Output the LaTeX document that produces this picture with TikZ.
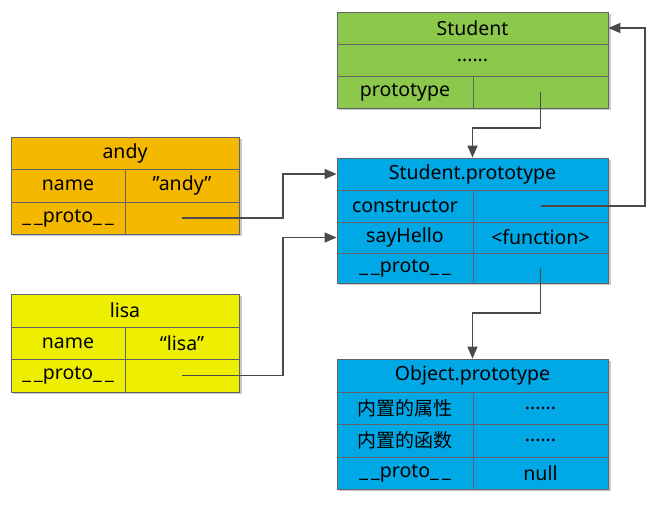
\documentclass[tikz,border=0pt]{standalone}
\usepackage{fontspec}
\setmainfont{Noto Sans}
\newfontfamily\cjkfont{Noto Sans CJK SC}
\usetikzlibrary{arrows.meta}
\definecolor{classgreen}{HTML}{8CC84B}
\definecolor{andyorange}{HTML}{F5B800}
\definecolor{lisayellow}{HTML}{EEEE00}
\definecolor{protoblue}{HTML}{00A9E6}
\definecolor{cellborder}{HTML}{5E6468}
\definecolor{linkcol}{HTML}{4A4A4A}
\definecolor{shadowcol}{HTML}{C8C8C8}
\begin{document}
\begin{tikzpicture}[x=1pt,y=-1pt,
  cell/.style={draw=cellborder, line width=0.8pt, inner sep=0pt,
    font=\fontsize{19.5}{22}\selectfont, text=black},
  cjk/.style={font=\cjkfont\fontsize{19}{21}\selectfont},
  link/.style={draw=linkcol, line width=1.5pt,
    -{Triangle[length=12pt,width=10pt]}},
  tshadow/.style={fill=shadowcol}]
\useasboundingbox (0,0) rectangle (659,504);

% soft shadows behind each table
\fill[tshadow] (339,14) rectangle (611,110);
\fill[tshadow] (13,139) rectangle (242,236);
\fill[tshadow] (339,160) rectangle (611,285);
\fill[tshadow] (13,296) rectangle (242,394);
\fill[tshadow] (339,361) rectangle (611,491);

% Student
\node[cell, fill=classgreen, minimum width=271pt, minimum height=32pt] (stuh) at (472.5,28) {Student};
\node[cell, fill=classgreen, minimum width=271pt, minimum height=32pt] (stud) at (472.5,60) {......};
\node[cell, fill=classgreen, minimum width=136pt, minimum height=32pt] (stuk) at (405,92) {prototype};
\node[cell, fill=classgreen, minimum width=135pt, minimum height=32pt] (stuv) at (540.5,92) {};

% andy
\node[cell, fill=andyorange, minimum width=228pt, minimum height=32pt] (andyh) at (125,153) {andy};
\node[cell, fill=andyorange, minimum width=114pt, minimum height=33pt] (andynk) at (68,185.5) {name};
\node[cell, fill=andyorange, minimum width=114pt, minimum height=33pt] (andynv) at (182,185.5) {”andy”};
\node[cell, fill=andyorange, minimum width=114pt, minimum height=32pt] (andypk) at (68,218) {\_\,\_proto\_\,\_};
\node[cell, fill=andyorange, minimum width=114pt, minimum height=32pt] (andypv) at (182,218) {};

% lisa
\node[cell, fill=lisayellow, minimum width=228pt, minimum height=33pt] (lisah) at (125,310.5) {lisa};
\node[cell, fill=lisayellow, minimum width=114pt, minimum height=32pt] (lisank) at (68,343) {name};
\node[cell, fill=lisayellow, minimum width=114pt, minimum height=32pt] (lisanv) at (182,343) {“lisa”};
\node[cell, fill=lisayellow, minimum width=114pt, minimum height=33pt] (lisapk) at (68,375.5) {\_\,\_proto\_\,\_};
\node[cell, fill=lisayellow, minimum width=114pt, minimum height=33pt] (lisapv) at (182,375.5) {};

% Student.prototype
\node[cell, fill=protoblue, minimum width=271pt, minimum height=32pt] (sph) at (472.5,174) {Student.prototype};
\node[cell, fill=protoblue, minimum width=136pt, minimum height=32pt] (spck) at (405,206) {constructor};
\node[cell, fill=protoblue, minimum width=135pt, minimum height=32pt] (spcv) at (540.5,206) {};
\node[cell, fill=protoblue, minimum width=136pt, minimum height=31pt] (spsk) at (405,237.5) {sayHello};
\node[cell, fill=protoblue, minimum width=135pt, minimum height=31pt] (spsv) at (540.5,237.5) {<function>};
\node[cell, fill=protoblue, minimum width=136pt, minimum height=30pt] (sppk) at (405,268) {\_\,\_proto\_\,\_};
\node[cell, fill=protoblue, minimum width=135pt, minimum height=30pt] (sppv) at (540.5,268) {};

% Object.prototype
\node[cell, fill=protoblue, minimum width=271pt, minimum height=33pt] (oph) at (472.5,375.5) {Object.prototype};
\node[cell, cjk, fill=protoblue, minimum width=136pt, minimum height=32pt] (opak) at (405,408) {内置的属性};
\node[cell, fill=protoblue, minimum width=135pt, minimum height=32pt] (opav) at (540.5,408) {......};
\node[cell, cjk, fill=protoblue, minimum width=136pt, minimum height=33pt] (opfk) at (405,440.5) {内置的函数};
\node[cell, fill=protoblue, minimum width=135pt, minimum height=33pt] (opfv) at (540.5,440.5) {......};
\node[cell, fill=protoblue, minimum width=136pt, minimum height=32pt] (oppk) at (405,473) {\_\,\_proto\_\,\_};
\node[cell, fill=protoblue, minimum width=135pt, minimum height=32pt] (oppv) at (540.5,473) {null};

% bend points of the links
\coordinate (lane) at (283,0);
\coordinate (back) at (645,0);

% links
\draw[link] (stuv.center) -- ++(0,36) -| (sph.north);
\draw[link] (andypv.center) -- (andypv.center -| lane) |- (sph.west);
\draw[link] (lisapv.center) -- (lisapv.center -| lane) |- (spsk.west);
\draw[link] (spcv.center) -- (spcv.center -| back) |- (stuh.east);
\draw[link] (sppv.center) -- ++(0,45) -| (oph.north);
\end{tikzpicture}
\end{document}
